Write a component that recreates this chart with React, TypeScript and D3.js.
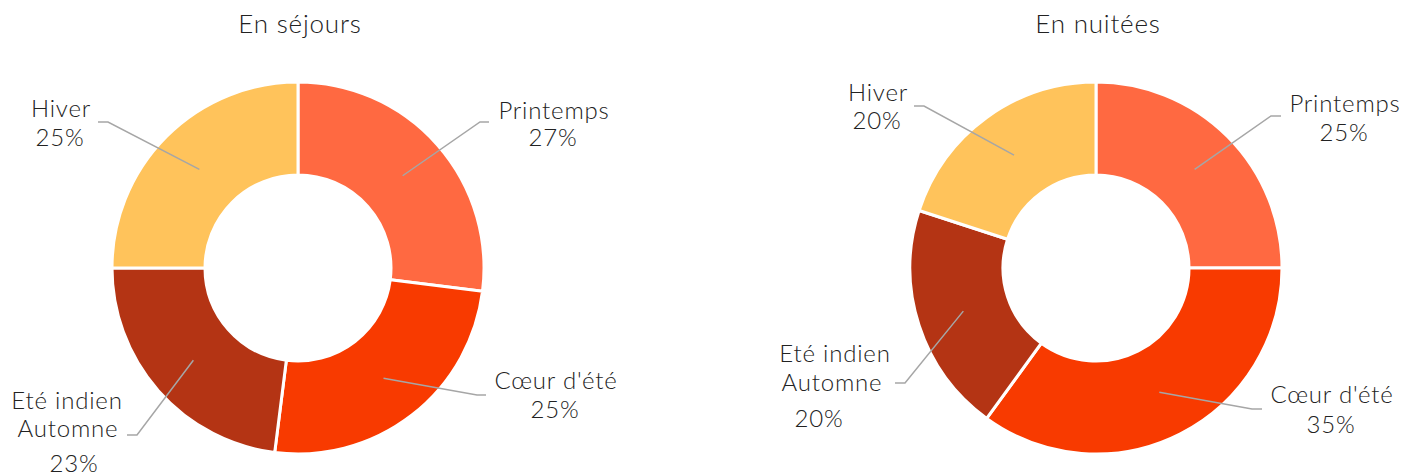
import React from "react";
import * as d3 from "d3";

// ---- data ----
const categories = ["Printemps", "Cœur d'été", "Eté indien\nAutomne", "Hiver"];
const sejoursValues = [27, 25, 23, 25];
const nuiteesValues = [25, 35, 20, 20];
const chartTitles = ["En séjours", "En nuitées"];
const colors = ["#FF6941", "#F83A00", "#B43414", "#FFC35B"];

// ---- layout (relative to each donut centre) ----
type LabelLayout = { elbow: [number, number]; end: [number, number]; lines: [number, number][] };
const LEFT_LAYOUT: LabelLayout[] = [
  { elbow: [182, -146], end: [191, -146], lines: [[256, -149], [255, -122]] },
  { elbow: [179, 127], end: [188, 127], lines: [[258, 121], [257, 150]] },
  { elbow: [-161, 167], end: [-171, 167], lines: [[-231, 141], [-230, 169], [-224, 204]] },
  { elbow: [-190, -146], end: [-200, -146], lines: [[-237, -151], [-238, -122]] },
];
const RIGHT_LAYOUT: LabelLayout[] = [
  { elbow: [175, -152], end: [185, -152], lines: [[249, -156], [248, -127]] },
  { elbow: [156, 141], end: [166, 141], lines: [[236, 135], [235, 165]] },
  { elbow: [-191, 115], end: [-201, 115], lines: [[-261, 94], [-264, 123], [-277, 159]] },
  { elbow: [-172, -162], end: [-182, -162], lines: [[-218, -167], [-219, -139]] },
];

const W = 1406;
const H = 475;
const OUTER = 186;
const INNER = 93;
const FONT = "Lato, 'Open Sans', sans-serif";
const TEXT = "#222222";

function Donut({ values, cx, cy, title, layout }: { values: number[]; cx: number; cy: number; title: string; layout: LabelLayout[] }) {
  const pie = d3.pie<number>().sort(null).value((d) => d);
  const arcs = pie(values);
  const arc = d3.arc<d3.PieArcDatum<number>>().innerRadius(INNER).outerRadius(OUTER);
  const total = d3.sum(values);
  const fmt = d3.format(".0%");
  return (
    <g>
      <text x={cx + 2} y={33} textAnchor="middle" fontFamily={FONT} fontWeight={300} fontSize={26} fill={TEXT} letterSpacing={0.8}>
        {title}
      </text>
      <g transform={`translate(${cx},${cy})`}>
        {arcs.map((a, i) => (
          <path key={i} d={arc(a) || ""} fill={colors[i]} stroke="#fff" strokeWidth={3} />
        ))}
        {arcs.map((a, i) => {
          const [sx, sy] = arc.centroid(a);
          const L = layout[i];
          const texts = [...categories[i].split("\n"), fmt(values[i] / total)];
          return (
            <g key={"l" + i}>
              <polyline
                points={`${sx},${sy} ${L.elbow[0]},${L.elbow[1]} ${L.end[0]},${L.end[1]}`}
                fill="none"
                stroke="#A6A6A6"
                strokeWidth={1.5}
              />
              {texts.map((t, j) => (
                <text
                  key={j}
                  x={L.lines[j][0]}
                  y={L.lines[j][1]}
                  textAnchor="middle"
                  fontFamily={FONT}
                  fontWeight={300}
                  fontSize={24}
                  fill={TEXT}
                  letterSpacing={0.8}
                >
                  {t}
                </text>
              ))}
            </g>
          );
        })}
      </g>
    </g>
  );
}

export default function App() {
  React.useEffect(() => {
    document.body.style.margin = "0";
  }, []);
  return (
    <svg width={W} height={H} style={{ display: "block", background: "#fff" }}>
      <Donut values={sejoursValues} cx={298} cy={268} title={chartTitles[0]} layout={LEFT_LAYOUT} />
      <Donut values={nuiteesValues} cx={1096} cy={268} title={chartTitles[1]} layout={RIGHT_LAYOUT} />
    </svg>
  );
}
